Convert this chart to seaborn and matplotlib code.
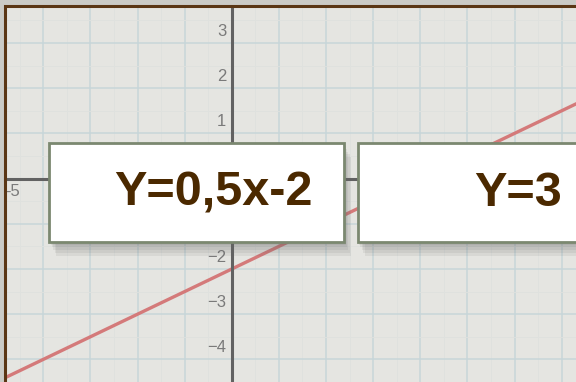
import numpy as np
import pandas as pd
import matplotlib
matplotlib.use('Agg')
import matplotlib.pyplot as plt
import matplotlib.patheffects as pe
from matplotlib.patches import Rectangle
import seaborn as sns

# line y = 0.5x - 2, read at two points beyond the visible window
line_x = [-5.0, 8.0]
line_y = [-4.5, 2.0]

# visible tick labels (others are hidden behind the boxes)
ytick_vals = [3, 2, 1, -2, -3, -4]
xtick_vals = [-5]

# the two cards
card_texts = ['Y=0,5x-2', 'Y=3']

sns.set_style('white')
plt.rcParams['font.family'] = ['Liberation Sans', 'DejaVu Sans']

fig = plt.figure(figsize=(5.76, 3.82), dpi=100, facecolor='#cbcbc6')
ax = fig.add_axes([5 / 576, 0, 571 / 576, 375 / 382])
ax.set_facecolor('#e5e5e1')

df = pd.DataFrame({'x': line_x, 'y': line_y})
sns.lineplot(data=df, x='x', y='y', ax=ax, color='#d47a7a', linewidth=2.4, zorder=3)

ax.set_xlim(-4.812, 7.303)
ax.set_ylim(-4.417, 3.795)

# graph paper grid
ax.set_xticks(np.arange(-4, 8, 1))
ax.set_yticks(np.arange(-4, 4, 1))
ax.set_xticks(np.arange(-4.5, 7.5, 0.5), minor=True)
ax.set_yticks(np.arange(-4.5, 4, 0.5), minor=True)
ax.grid(which='major', color='#c7d6d9', linewidth=1.1, zorder=0)
ax.grid(which='minor', color='#dfe1de', linewidth=0.6, zorder=0)
ax.set_axisbelow(True)

# axes through the origin
for s in ['right', 'top']:
    ax.spines[s].set_visible(False)
ax.spines['left'].set_position(('data', 0))
ax.spines['bottom'].set_position(('data', 0))
for s in ['left', 'bottom']:
    ax.spines[s].set_color('#626262')
    ax.spines[s].set_linewidth(2.2)
    ax.spines[s].set_zorder(4)
ax.tick_params(which='major', direction='inout', length=13, width=1.3, color='#626262',
               labelleft=False, labelbottom=False)
ax.tick_params(which='minor', direction='in', length=4, width=1.0, color='#626262')
ax.set_xlabel('')
ax.set_ylabel('')

# tick labels sit a little off their ticks
for v in ytick_vals:
    ax.text(-0.12, v + 0.26, str(v).replace('-', '\u2212'), ha='right', va='center',
            fontsize=12, color='#7a7a7a', zorder=4)
for v in xtick_vals:
    ax.text(v + 0.34, -0.28, str(v), ha='center', va='center',
            fontsize=12, color='#7a7a7a', zorder=4)

# white cards with a soft drop shadow
shadow = [pe.SimplePatchShadow(offset=(dx, -dy), shadow_rgbFace='#666666', alpha=0.10)
          for dx, dy in [(1, 2), (2, 4), (3, 6), (4, 8), (5, 10)]] + [pe.Normal()]
cards = [(0.0776, 0.374, 0.5166, 0.2625, 0.3655),
         (0.6177, 0.374, 0.45, 0.2625, 0.899)]
for (x0, y0, w, h, tx), label in zip(cards, card_texts):
    r = Rectangle((x0, y0), w, h, transform=ax.transAxes, facecolor='white',
                  edgecolor='#7b8870', linewidth=2, zorder=5, clip_on=True,
                  path_effects=shadow)
    ax.add_patch(r)
    ax.text(tx, 0.503, label, transform=ax.transAxes, ha='center', va='center',
            fontsize=35, fontweight='bold', color='#4b2900', zorder=6)

# brown frame on the page edge
fig.add_artist(Rectangle((4.5 / 576, -0.1), 1.2, 1.1 - 6.5 / 382, transform=fig.transFigure,
                         facecolor='none', edgecolor='#5a3614', linewidth=2.2, zorder=10))

fig.savefig('out.png', dpi=100, facecolor=fig.get_facecolor())
